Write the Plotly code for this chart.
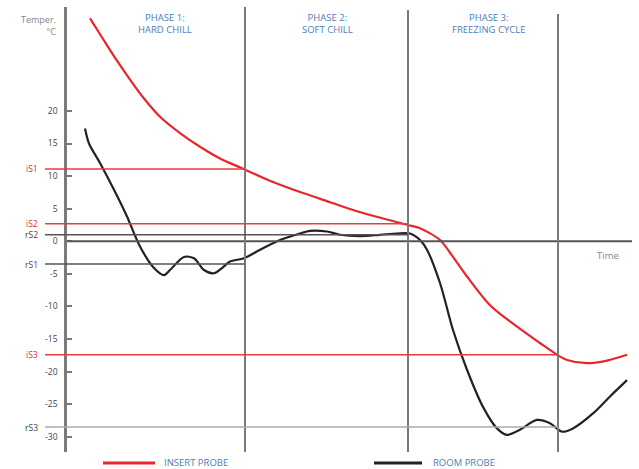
import plotly.graph_objects as go

# ---- data ----
insert_t = [2.3, 3.7, 5.0, 6.3, 7.7, 9.3, 11.3, 13.3, 15.3, 17.5, 20.6, 23.6, 26.3, 29.0, 31.6, 34.1,
            35.3, 37.3, 38.6, 40.0, 42.3, 45.0, 47.3, 49.0, 50.0, 52.0, 54.0, 56.0]
insert_v = [34.2, 30.8, 27.7, 24.8, 21.9, 19.1, 16.6, 14.5, 12.7, 11.2, 9.1, 7.4, 6.0, 4.6, 3.5, 2.5,
            2.0, 0.2, -2.4, -5.4, -9.8, -13.1, -15.6, -17.4, -18.2, -18.7, -18.3, -17.4]

room_t = [1.8, 2.2, 3.3, 4.7, 6.0, 7.3, 8.7, 9.7, 10.3, 11.7, 12.7, 13.7, 14.7, 15.5, 16.3, 17.7,
          19.3, 21.3, 23.3, 24.3, 26.0, 27.3, 29.3, 31.3, 33.0, 34.3, 35.3, 36.0, 37.3, 38.6, 40.0,
          41.6, 43.0, 44.0, 45.3, 47.0, 48.3, 49.5, 50.6, 52.6, 54.3, 56.0]
room_v = [17.3, 15.0, 12.0, 7.9, 3.8, -0.8, -4.1, -5.2, -4.4, -2.4, -2.6, -4.4, -4.9, -4.1, -3.1, -2.6,
          -1.3, 0.2, 1.2, 1.6, 1.5, 1.0, 0.8, 1.0, 1.2, 1.2, 0.2, -1.3, -6.4, -13.6, -19.7,
          -25.4, -28.7, -29.7, -28.9, -27.4, -27.9, -29.2, -28.7, -26.4, -23.8, -21.3]

phase_bounds = [17.8, 34.1, 49.1]
phase_names = [["PHASE 1:", "HARD CHILL"], ["PHASE 2:", "SOFT CHILL"], ["PHASE 3:", "FREEZING CYCLE"]]

set_labels = ["iS1", "iS2", "rS2", "rS1", "iS3", "rS3"]
set_values = [11.1, 2.7, 1.0, -3.5, -17.4, -28.5]
set_ends = [17.8, 34.1, 34.1, 17.8, 49.1, 49.1]
set_kind = ["i", "i", "r", "r", "i", "r3"]

y_ticks = [20, 15, 10, 5, 0, -5, -10, -15, -20, -25, -30]
series_names = ["INSERT PROBE", "ROOM PROBE"]

# ---- layout geometry ----
W, H = 639, 469
ML, MR, MT, MB = 67, 7, 7, 17
XMAX = 56.5
YMIN, YMAX = -32.32, 35.94
PW, PH = W - ML - MR, H - MT - MB

def px_x(px):
    return (px - ML) / PW

def px_y(py):
    return (H - MB - py) / PH

RED = "#e8262b"
BLACK = "#222222"
GRAY = "#7a7a7a"
BLUE = "#4f7db3"
FONT = "Open Sans"

fig = go.Figure()
fig.add_trace(go.Scatter(x=insert_t, y=insert_v, mode="lines", name=series_names[0],
                         line=dict(color=RED, width=2.2, shape="spline", smoothing=0.8),
                         showlegend=False))
fig.add_trace(go.Scatter(x=room_t, y=room_v, mode="lines", name=series_names[1],
                         line=dict(color=BLACK, width=2.2, shape="spline", smoothing=0.8),
                         showlegend=False))

shapes = []
# x axis at 0
shapes.append(dict(type="line", xref="x", yref="y", x0=0, x1=XMAX, y0=0, y1=0,
                   line=dict(color="#555555", width=2)))
# phase boundary lines
tops = [px_y(7), px_y(10), px_y(14)]
for b, top in zip(phase_bounds, tops):
    shapes.append(dict(type="line", xref="x", yref="paper", x0=b, x1=b, y0=0, y1=top,
                       line=dict(color=GRAY, width=2)))
# set point lines
annotations = []
for lab, v, e, k in zip(set_labels, set_values, set_ends, set_kind):
    if k == "i":
        col, w = "#ee3b3b", 1.5
    elif k == "r":
        col, w = "#555555", 1.5
    else:
        col, w = "#aaaaaa", 1.5
    shapes.append(dict(type="line", xref="paper", yref="y", x0=px_x(45), x1=e / XMAX, y0=v, y1=v,
                       line=dict(color=col, width=w)))
    annotations.append(dict(text=lab, xref="paper", yref="y", x=px_x(40), y=v, xanchor="right",
                            yanchor="middle", showarrow=False,
                            font=dict(family=FONT, size=8.5, color=RED if k == "i" else "#444444")))

# phase labels
centers_px = [165, 327, 488]
for names, cpx in zip(phase_names, centers_px):
    annotations.append(dict(text=names[0] + "<br>" + names[1], xref="paper", yref="paper",
                            x=px_x(cpx), y=px_y(9), xanchor="center", yanchor="top", showarrow=False,
                            align="center",
                            font=dict(family=FONT, size=9.5, color=BLUE)))

# axis titles
annotations.append(dict(text="Temper.<br>°C", xref="paper", yref="paper", x=px_x(58), y=px_y(11),
                        xanchor="right", yanchor="top", showarrow=False, align="right",
                        font=dict(family=FONT, size=9, color="#888888")))
annotations.append(dict(text="Time", xref="paper", yref="paper", x=px_x(608), y=px_y(256),
                        xanchor="center", yanchor="middle", showarrow=False,
                        font=dict(family=FONT, size=9.5, color="#888888")))

# custom legend
leg_y = px_y(463)
shapes.append(dict(type="line", xref="paper", yref="paper", x0=px_x(103), x1=px_x(155), y0=leg_y, y1=leg_y,
                   line=dict(color=RED, width=3)))
shapes.append(dict(type="line", xref="paper", yref="paper", x0=px_x(374), x1=px_x(422), y0=leg_y, y1=leg_y,
                   line=dict(color=BLACK, width=3)))
annotations.append(dict(text=series_names[0], xref="paper", yref="paper", x=px_x(162), y=leg_y,
                        xanchor="left", yanchor="middle", showarrow=False,
                        font=dict(family=FONT, size=9.5, color=BLUE)))
annotations.append(dict(text=series_names[1], xref="paper", yref="paper", x=px_x(431), y=leg_y,
                        xanchor="left", yanchor="middle", showarrow=False,
                        font=dict(family=FONT, size=9.5, color=BLUE)))

fig.update_layout(
    width=W, height=H,
    margin=dict(l=ML, r=MR, t=MT, b=MB),
    paper_bgcolor="white", plot_bgcolor="white",
    shapes=shapes, annotations=annotations,
    hovermode=False,
    xaxis=dict(range=[0, XMAX], showgrid=False, zeroline=False, showticklabels=False,
               showline=False, ticks=""),
    yaxis=dict(range=[YMIN, YMAX], showgrid=False, zeroline=False, tickvals=y_ticks,
               ticktext=[str(t) for t in y_ticks], ticks="inside", ticklen=5, tickwidth=1.5,
               tickcolor=GRAY, showline=True, linecolor=GRAY, linewidth=2.5,
               ticklabelstandoff=5,
               tickfont=dict(family=FONT, size=8.5, color="#444444")),
)

fig.write_html("out.html", config={"displayModeBar": False},
               post_script="document.body.style.margin='0';document.body.style.overflow='hidden';")
